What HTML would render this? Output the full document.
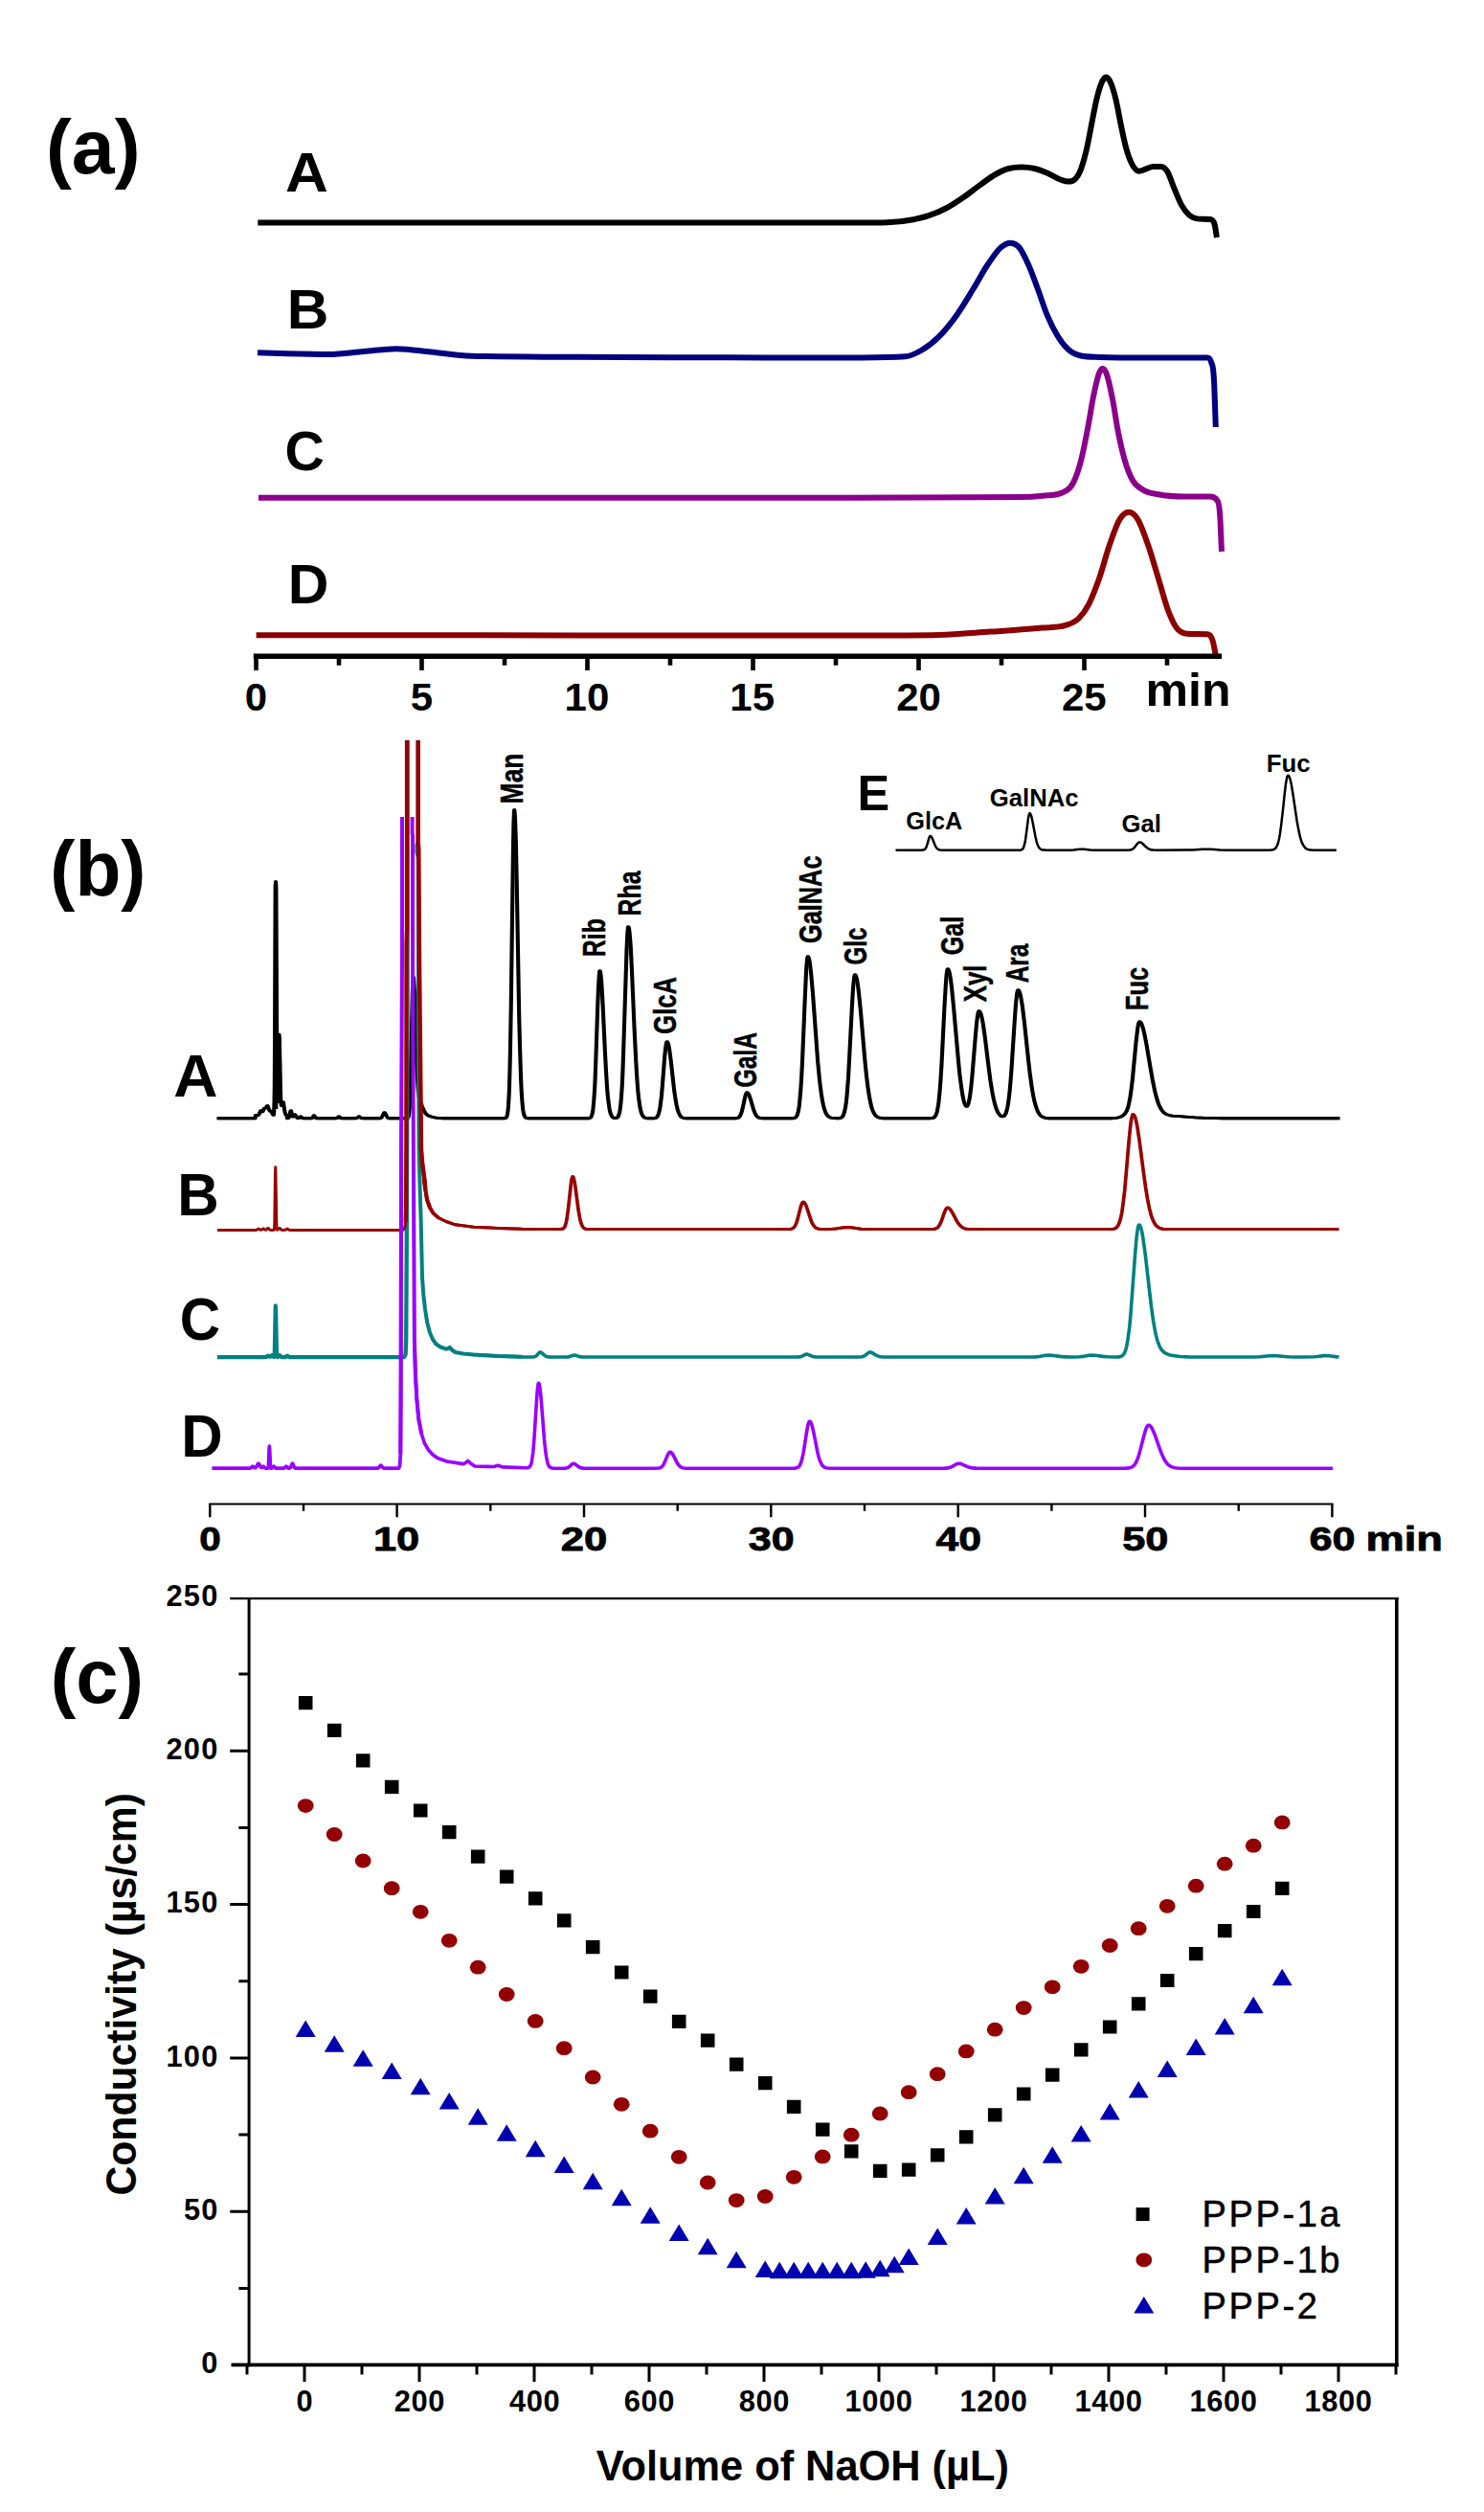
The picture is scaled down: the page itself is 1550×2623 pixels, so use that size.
<!DOCTYPE html>
<html lang="en"><head><meta charset="utf-8"><title>Figure</title>
<style>
html,body{margin:0;padding:0;background:#fff;}
svg{display:block;}
svg text{font-family:"Liberation Sans",sans-serif;}
</style></head>
<body>
<svg width="1550" height="2623" viewBox="0 0 1550 2623">
<rect width="1550" height="2623" fill="#ffffff"/>
<g id="panel-a" fill="none" stroke-linecap="butt" stroke-linejoin="round">
<path d="M269.3,232.6C379.5,232.6 489.8,232.6 600.0,232.6C700.0,232.6 800.0,232.6 900.0,232.5C909.0,232.5 918.0,232.5 927.0,232.2C936.0,231.9 945.0,231.0 954.0,229.2C959.3,228.1 964.7,227.0 970.0,225.2C976.3,223.1 982.7,220.4 989.0,217.0C995.3,213.6 1001.5,209.4 1007.8,205.0C1013.2,201.2 1018.6,196.8 1024.0,192.9C1029.3,189.1 1034.7,184.9 1040.0,182.0C1044.5,179.5 1049.1,177.2 1053.6,176.0C1058.1,174.8 1062.5,174.5 1067.0,174.5C1071.5,174.5 1076.1,175.0 1080.6,176.0C1085.1,177.0 1089.5,178.8 1094.0,180.7C1098.5,182.6 1103.0,185.9 1107.5,187.5C1110.2,188.4 1112.9,189.6 1115.6,189.6C1117.9,189.6 1120.1,189.6 1122.4,187.5C1124.6,185.5 1126.8,182.5 1129.0,176.7C1130.8,171.9 1132.7,165.5 1134.5,157.8C1136.3,150.2 1138.1,139.9 1139.9,130.9C1141.7,121.9 1143.5,111.4 1145.3,104.0C1147.1,96.5 1148.9,90.1 1150.7,86.2C1152.2,82.9 1153.8,80.6 1155.3,80.6C1156.9,80.6 1158.4,82.9 1160.0,86.2C1161.8,90.1 1163.7,96.4 1165.5,104.0C1167.3,111.4 1169.1,122.5 1170.9,131.0C1172.7,139.5 1174.5,148.5 1176.3,155.0C1178.5,163.1 1180.8,168.6 1183.0,172.6C1185.3,176.6 1187.5,178.8 1189.8,178.8C1192.0,178.8 1194.3,177.4 1196.5,176.7C1199.2,175.8 1201.9,174.0 1204.6,174.0C1207.3,174.0 1210.0,174.0 1212.7,174.0C1214.9,174.0 1217.2,175.7 1219.4,179.4C1221.6,183.0 1223.8,190.4 1226.0,195.6C1228.7,202.1 1231.5,209.5 1234.2,214.4C1236.9,219.2 1239.6,222.4 1242.3,224.7C1245.0,227.0 1247.7,228.0 1250.4,228.4C1254.9,229.0 1259.4,228.4 1263.9,229.0C1265.5,229.2 1267.1,229.0 1268.7,234.6C1269.4,237.2 1270.2,243.5 1270.9,248.0" stroke="#000" stroke-width="6"/>
<path d="M269.0,368.3C279.3,368.6 289.7,368.9 300.0,369.2C314.5,369.6 329.0,370.0 343.5,370.0C355.7,370.0 367.8,368.0 380.0,367.0C391.3,366.1 402.7,364.2 414.0,364.2C426.0,364.2 438.0,366.3 450.0,367.5C463.9,368.8 477.8,371.3 491.7,371.7C527.8,372.8 563.9,372.5 600.0,372.8C666.7,373.3 733.3,373.4 800.0,373.4C833.3,373.4 866.7,373.4 900.0,373.4C915.3,373.4 930.5,373.4 945.8,372.3C951.2,371.9 956.6,369.1 962.0,366.0C968.3,362.4 974.6,357.6 980.9,351.3C987.2,345.0 993.4,337.3 999.7,328.4C1005.1,320.8 1010.5,311.6 1015.9,302.8C1021.3,294.1 1026.6,283.7 1032.0,275.8C1036.5,269.2 1041.1,262.0 1045.6,258.3C1048.7,255.7 1051.9,253.7 1055.0,253.7C1058.1,253.7 1061.3,254.7 1064.4,258.3C1067.6,262.0 1070.7,268.8 1073.9,275.8C1077.0,282.7 1080.2,291.6 1083.3,300.0C1086.9,309.5 1090.4,321.2 1094.0,329.7C1097.6,338.4 1101.3,345.4 1104.9,351.3C1108.5,357.1 1112.0,361.5 1115.6,364.8C1120.1,368.9 1124.5,370.5 1129.0,371.5C1135.3,372.9 1141.7,372.7 1148.0,372.9C1165.3,373.4 1182.7,373.4 1200.0,373.4C1220.3,373.4 1240.7,373.4 1261.0,373.4C1262.3,373.4 1263.7,373.4 1265.0,378.0C1266.0,381.5 1267.0,378.0 1268.0,397.0C1268.6,408.4 1269.2,429.7 1269.8,446.0" stroke="#00007f" stroke-width="6"/>
<path d="M270.0,519.8C413.3,519.8 556.7,519.8 700.0,519.8C822.3,519.8 944.7,519.8 1067.0,519.0C1074.2,519.0 1081.5,518.5 1088.7,517.7C1095.8,516.9 1102.9,517.7 1110.0,514.2C1113.7,512.4 1117.3,511.7 1121.0,504.2C1123.7,498.8 1126.3,491.7 1129.0,481.3C1131.3,472.5 1133.5,460.7 1135.8,449.0C1138.1,437.3 1140.3,421.8 1142.6,411.2C1144.4,402.8 1146.2,393.9 1148.0,389.6C1149.2,386.8 1150.3,384.8 1151.5,384.8C1152.8,384.8 1154.2,386.5 1155.5,389.6C1157.5,394.3 1159.5,404.2 1161.5,414.0C1163.7,424.6 1165.8,440.7 1168.0,451.6C1170.3,463.4 1172.7,473.3 1175.0,481.3C1177.7,490.5 1180.3,496.6 1183.0,501.5C1186.6,508.1 1190.2,509.1 1193.8,511.5C1199.2,515.1 1204.6,515.1 1210.0,516.3C1219.0,518.2 1228.0,518.5 1237.0,518.5C1246.0,518.5 1254.9,518.5 1263.9,518.5C1266.1,518.5 1268.4,518.5 1270.6,521.7C1271.7,523.3 1272.9,521.7 1274.0,535.0C1274.7,542.8 1275.3,562.3 1276.0,576.0" stroke="#8b008b" stroke-width="6"/>
<path d="M267.6,663.2C378.4,663.3 489.2,663.3 600.0,663.4C700.0,663.5 800.0,663.6 900.0,663.6C927.0,663.6 953.9,663.6 980.9,663.0C998.9,662.6 1016.8,660.8 1034.8,659.6C1052.8,658.4 1070.7,657.4 1088.7,655.6C1096.8,654.8 1104.9,655.6 1113.0,652.9C1117.5,651.4 1121.9,650.5 1126.4,646.0C1129.9,642.5 1133.5,638.1 1137.0,631.3C1140.7,624.3 1144.3,614.8 1148.0,604.3C1151.6,594.0 1155.2,579.7 1158.8,569.3C1162.4,559.0 1165.9,548.0 1169.5,542.3C1172.7,537.2 1175.8,534.8 1179.0,534.8C1182.1,534.8 1185.3,537.3 1188.4,542.3C1192.0,548.0 1195.6,559.0 1199.2,569.3C1202.8,579.6 1206.4,592.6 1210.0,604.3C1213.6,616.0 1217.2,630.2 1220.8,639.4C1223.5,646.2 1226.1,651.8 1228.8,655.6C1232.4,660.7 1236.0,661.5 1239.6,661.8C1246.8,662.3 1254.0,661.8 1261.2,662.3C1263.0,662.4 1264.8,662.9 1266.6,669.0C1267.7,672.6 1268.7,679.0 1269.8,684.0" stroke="#8b0000" stroke-width="6"/>
<path d="M264.8,685.3H1276" stroke="#000" stroke-width="5.4"/>
<path d="M267.5,685.3V700M354.0,685.3V694.7M440.5,685.3V700M527.0,685.3V694.7M613.5,685.3V700M700.0,685.3V694.7M786.5,685.3V700M873.0,685.3V694.7M959.5,685.3V700M1046.0,685.3V694.7M1132.5,685.3V700M1219.0,685.3V694.7" stroke="#000" stroke-width="4.6"/>
</g>
<g id="labels-a">
<text transform="translate(47.97 181.00) scale(1.0078 1)" font-size="80" font-weight="bold" fill="#000">(a)</text>
<text transform="translate(297.89 199.80) scale(1.0710 1)" font-size="58" font-weight="bold" fill="#000">A</text>
<text transform="translate(299.69 343.00) scale(1.0423 1)" font-size="58" font-weight="bold" fill="#000">B</text>
<text transform="translate(297.58 491.40) scale(0.9868 1)" font-size="58" font-weight="bold" fill="#000">C</text>
<text transform="translate(300.68 630.00) scale(1.0182 1)" font-size="58" font-weight="bold" fill="#000">D</text>
<text transform="translate(255.82 742.00) scale(1.0500 1)" font-size="40" font-weight="bold" fill="#000">0</text>
<text transform="translate(428.69 742.00) scale(1.0500 1)" font-size="40" font-weight="bold" fill="#000">5</text>
<text transform="translate(589.61 742.00) scale(1.0500 1)" font-size="40" font-weight="bold" fill="#000">10</text>
<text transform="translate(762.35 742.00) scale(1.0500 1)" font-size="40" font-weight="bold" fill="#000">15</text>
<text transform="translate(936.27 742.00) scale(1.0500 1)" font-size="40" font-weight="bold" fill="#000">20</text>
<text transform="translate(1109.01 742.00) scale(1.0500 1)" font-size="40" font-weight="bold" fill="#000">25</text>
<text transform="translate(1196.51 737.40) scale(1.0430 1)" font-size="48" font-weight="bold" fill="#000">min</text>
</g>
<g id="panel-b" fill="none" stroke-linejoin="round" stroke-linecap="butt">
<g stroke="#000" stroke-width="2.9"><path transform="translate(-0.6 0)" d="M227.0,1167.8L266.5,1167.8L266.8,1164.8L269.0,1164.7L269.5,1164.6L270.0,1164.2L270.8,1163.1L272.0,1160.2L272.2,1159.9L272.5,1159.7L272.8,1159.7L273.0,1159.9L273.8,1160.8L274.0,1160.9L274.2,1160.8L274.8,1160.1L275.5,1158.2L276.0,1157.3L276.2,1157.1L276.5,1157.1L277.2,1157.1L277.5,1157.0L278.0,1156.3L278.8,1155.0L279.0,1154.7L279.2,1154.6L279.5,1154.7L280.0,1155.6L281.0,1158.5L281.5,1159.6L282.0,1160.0L282.8,1160.2L283.2,1160.6L283.8,1161.4L284.8,1163.4L285.2,1164.1L285.5,1164.3L285.8,1164.2L286.0,1163.3L286.2,1160.2L286.5,1151.7L286.8,1133.0L287.0,1098.7L287.8,940.4L288.0,920.6L288.2,933.3L289.2,1092.4L289.5,1111.4L289.8,1118.2L290.0,1116.5L291.0,1086.5L291.2,1082.0L291.5,1080.3L291.8,1083.2L292.0,1091.7L293.0,1140.1L293.2,1147.4L293.5,1151.8L293.8,1153.9L294.0,1154.5L294.2,1154.2L295.2,1151.1L295.5,1150.8L295.8,1150.9L296.0,1151.6L296.2,1152.7L297.2,1159.4L297.8,1162.0L298.0,1162.9L298.5,1164.0L299.0,1164.5L299.8,1164.8L300.0,1167.8L301.0,1167.6L301.5,1167.2L301.8,1166.8L302.2,1165.4L303.2,1160.9L303.5,1160.1L303.8,1159.8L304.0,1159.9L304.2,1160.5L305.2,1164.7L305.8,1165.9L306.0,1166.1L306.2,1166.0L306.5,1165.8L307.5,1164.1L307.8,1163.9L308.0,1163.8L308.2,1163.9L308.5,1164.1L309.8,1166.4L310.2,1167.1L310.8,1167.5L311.2,1167.7L311.8,1167.6L312.2,1167.4L313.5,1166.0L314.0,1165.8L314.5,1166.0L315.8,1167.4L316.5,1167.7L318.0,1167.8L325.2,1167.7L325.8,1167.6L326.2,1167.2L327.5,1165.2L327.8,1164.9L328.0,1164.8L328.2,1164.9L328.5,1165.2L329.5,1166.8L330.0,1167.4L330.5,1167.7L331.2,1167.8L351.0,1167.8L351.8,1167.6L352.2,1167.4L353.5,1166.0L354.0,1165.8L354.5,1166.0L355.5,1167.2L356.0,1167.5L356.5,1167.7L357.2,1167.8L371.8,1167.7L372.8,1167.5L373.2,1167.1L374.5,1166.0L375.0,1165.8L375.5,1166.0L376.8,1167.1L377.2,1167.5L378.2,1167.7L396.5,1167.8L397.2,1167.7L397.8,1167.5L398.5,1166.9L399.2,1165.8L400.8,1162.6L401.2,1161.9L401.5,1161.8L401.8,1161.8L402.2,1162.3L402.8,1163.2L403.8,1165.4L404.5,1166.6L405.2,1167.4L406.0,1167.7L408.0,1167.8L424.2,1167.8L425.2,1167.7L425.8,1167.4L426.0,1167.2L426.5,1166.2L426.8,1165.3L427.2,1162.3L427.8,1156.6L428.2,1146.8L428.8,1132.0L429.2,1111.6L430.8,1038.3L431.2,1023.7L431.5,1020.5L431.8,1020.2L432.0,1021.6L432.2,1024.8L432.8,1035.4L435.0,1106.7L435.8,1123.8L436.5,1135.7L437.2,1142.6L437.8,1145.5L438.2,1147.5L439.2,1150.6L441.5,1156.9L442.8,1159.7L443.8,1161.5L444.8,1162.8L446.0,1164.0L447.2,1164.8L448.8,1165.5L451.0,1166.2L453.8,1166.9L456.5,1167.3L459.2,1167.6L463.0,1167.7L468.5,1167.8L525.8,1167.8L527.0,1167.7L527.8,1167.6L528.2,1167.4L528.8,1167.0L529.2,1166.1L529.5,1165.5L530.0,1163.5L530.5,1160.1L531.0,1154.7L531.8,1140.7L532.5,1116.7L533.0,1093.7L533.8,1048.3L536.0,882.2L536.5,858.7L536.8,851.2L537.0,846.9L537.2,845.8L537.5,847.1L538.0,854.6L538.8,877.6L539.8,924.7L542.2,1060.9L543.0,1092.6L544.0,1124.2L544.5,1135.7L545.0,1144.6L545.5,1151.4L546.2,1158.5L547.0,1162.7L547.8,1165.2L548.5,1166.5L549.0,1167.0L549.8,1167.4L551.0,1167.7L553.5,1167.8L613.8,1167.8L615.2,1167.7L616.2,1167.4L617.0,1166.8L617.8,1165.6L618.2,1164.3L618.8,1162.3L619.5,1157.7L620.2,1150.2L621.0,1139.1L621.5,1129.4L622.2,1111.3L624.2,1051.6L625.0,1031.9L625.8,1018.5L626.0,1015.9L626.2,1014.3L626.5,1013.8L626.8,1014.1L627.0,1014.8L627.5,1017.9L628.0,1022.9L628.5,1029.6L629.5,1047.1L632.0,1099.8L633.0,1118.7L634.2,1137.5L635.0,1146.0L635.8,1152.6L636.5,1157.5L637.2,1161.0L637.8,1162.8L638.2,1164.1L638.8,1165.1L639.2,1165.9L640.0,1166.7L640.8,1167.2L641.8,1167.5L642.8,1167.6L643.8,1167.4L644.5,1167.1L645.2,1166.4L645.8,1165.7L646.5,1163.8L647.0,1161.9L647.5,1159.3L648.0,1155.8L648.5,1151.1L649.0,1145.1L649.8,1133.1L650.5,1117.1L651.2,1097.2L653.8,1014.4L654.5,992.6L655.0,981.1L655.5,973.0L656.0,968.5L656.2,967.8L656.5,968.0L656.8,968.6L657.0,969.7L657.5,973.3L658.0,978.6L658.8,989.6L660.0,1014.1L662.5,1072.3L663.8,1099.0L665.0,1121.1L666.2,1138.0L667.0,1145.7L667.8,1151.7L668.5,1156.4L669.5,1160.8L670.5,1163.7L671.5,1165.4L672.0,1166.0L672.8,1166.7L673.5,1167.1L674.2,1167.4L676.2,1167.7L680.2,1167.8L683.2,1167.7L684.8,1167.4L685.8,1166.8L686.2,1166.3L686.8,1165.6L687.5,1164.2L688.2,1161.9L689.0,1158.6L689.5,1155.8L690.2,1150.3L690.8,1145.8L692.0,1132.1L694.2,1103.5L695.0,1095.8L695.5,1091.9L696.0,1089.2L696.2,1088.4L696.5,1087.9L696.8,1087.8L697.0,1087.9L697.2,1088.2L697.5,1088.7L698.0,1090.2L698.8,1093.6L699.5,1098.2L700.8,1108.1L704.2,1138.8L705.5,1147.6L706.5,1153.3L707.8,1158.7L709.0,1162.4L709.8,1163.9L710.5,1165.1L711.2,1166.0L712.2,1166.7L713.5,1167.3L714.8,1167.6L716.2,1167.7L718.8,1167.8L766.5,1167.8L769.0,1167.7L770.5,1167.4L771.5,1166.9L772.5,1165.9L773.2,1164.7L774.0,1162.9L774.8,1160.7L775.5,1157.8L777.8,1147.4L778.5,1144.3L779.0,1142.7L779.5,1141.5L780.0,1140.9L780.2,1140.8L780.8,1140.9L781.2,1141.4L781.8,1142.1L782.5,1143.7L783.8,1147.4L786.8,1157.7L787.8,1160.5L788.5,1162.3L789.2,1163.7L790.2,1165.2L791.2,1166.2L792.2,1166.9L793.2,1167.3L794.2,1167.5L797.0,1167.8L825.8,1167.8L828.0,1167.7L829.2,1167.6L830.2,1167.3L831.2,1166.6L832.0,1165.6L832.8,1164.1L833.5,1161.7L834.0,1159.4L834.8,1154.7L835.2,1150.6L836.2,1139.3L837.0,1128.0L838.0,1108.7L840.8,1041.4L841.8,1019.6L842.2,1011.0L842.8,1004.5L843.2,1000.4L843.5,999.3L843.8,998.8L844.0,998.9L844.5,999.6L845.0,1001.1L845.5,1003.4L846.2,1008.3L847.2,1017.1L849.0,1037.6L852.8,1089.8L854.2,1108.9L856.0,1127.6L856.8,1134.3L857.8,1141.9L858.8,1148.2L859.8,1153.3L860.8,1157.2L862.0,1160.9L863.2,1163.4L864.5,1165.1L865.2,1165.8L866.0,1166.3L866.8,1166.7L867.8,1167.1L869.0,1167.4L870.5,1167.6L875.0,1167.8L876.5,1167.7L877.5,1167.5L878.2,1167.3L879.0,1166.8L879.8,1166.2L880.2,1165.5L880.8,1164.7L881.2,1163.6L882.2,1160.2L883.0,1156.5L883.8,1151.3L884.5,1144.6L885.2,1136.0L886.0,1125.5L887.2,1103.9L890.0,1048.9L891.0,1032.5L891.5,1026.3L892.0,1021.6L892.5,1018.8L892.8,1018.0L893.0,1017.8L893.2,1017.9L893.5,1018.1L894.0,1019.1L894.5,1020.6L895.0,1022.8L896.0,1028.8L897.0,1036.7L898.8,1054.3L903.5,1108.6L905.0,1123.3L906.5,1135.5L908.0,1145.3L909.5,1152.7L910.2,1155.6L911.2,1158.8L912.0,1160.7L913.0,1162.7L913.8,1163.8L914.5,1164.8L915.5,1165.7L916.5,1166.4L917.8,1166.9L919.0,1167.3L920.5,1167.5L922.2,1167.7L929.2,1167.8L971.5,1167.8L973.2,1167.6L974.5,1167.4L975.5,1166.9L976.5,1165.9L977.2,1164.8L978.0,1163.1L978.8,1160.6L979.2,1158.3L980.0,1153.9L980.5,1150.2L981.5,1140.5L982.5,1127.4L983.5,1111.1L986.5,1050.5L987.8,1028.6L988.5,1019.2L989.0,1014.9L989.5,1012.4L989.8,1011.9L990.0,1011.8L990.5,1012.2L991.0,1013.3L991.5,1014.9L992.0,1017.1L993.0,1023.1L994.0,1031.0L996.0,1051.2L1000.8,1105.6L1002.2,1120.4L1003.8,1132.8L1005.2,1142.6L1006.5,1148.8L1007.2,1151.5L1008.0,1153.6L1008.8,1154.9L1009.2,1155.3L1009.8,1155.3L1010.0,1155.2L1010.5,1154.7L1011.0,1153.7L1011.5,1152.2L1012.5,1147.9L1013.5,1141.6L1014.5,1133.1L1015.5,1122.8L1018.8,1082.4L1020.0,1068.8L1020.8,1062.6L1021.5,1058.2L1022.0,1056.5L1022.2,1056.0L1022.5,1055.8L1022.8,1055.8L1023.2,1056.1L1023.8,1056.9L1024.2,1058.0L1024.8,1059.6L1025.8,1063.8L1026.8,1069.3L1028.8,1083.3L1032.8,1115.7L1034.5,1128.7L1035.8,1136.8L1036.8,1142.5L1037.8,1147.5L1038.8,1151.7L1040.0,1156.0L1041.5,1159.9L1042.2,1161.4L1043.0,1162.7L1043.8,1163.7L1044.5,1164.5L1045.5,1165.3L1046.2,1165.7L1047.2,1165.9L1048.0,1165.7L1048.8,1165.3L1049.2,1164.8L1050.0,1163.7L1050.5,1162.7L1051.5,1159.7L1052.5,1155.2L1053.5,1148.8L1054.5,1140.3L1055.5,1129.3L1056.5,1116.1L1059.8,1065.1L1061.0,1048.4L1061.8,1040.9L1062.2,1037.3L1062.8,1034.9L1063.0,1034.2L1063.2,1033.9L1063.5,1033.8L1064.0,1034.1L1064.5,1034.9L1065.0,1036.2L1065.5,1037.8L1066.5,1042.4L1067.8,1050.2L1069.8,1066.4L1073.8,1104.0L1075.5,1119.2L1077.5,1133.9L1078.5,1140.1L1079.5,1145.5L1080.5,1150.1L1081.8,1154.8L1082.8,1157.8L1084.0,1160.7L1085.2,1162.9L1086.5,1164.5L1088.0,1165.8L1089.8,1166.7L1091.2,1167.2L1093.0,1167.5L1095.2,1167.7L1098.2,1167.8L1152.8,1167.8L1161.0,1167.7L1165.5,1167.4L1167.2,1167.1L1169.0,1166.6L1170.5,1166.1L1172.0,1165.4L1173.2,1164.6L1174.2,1163.7L1175.2,1162.6L1176.2,1161.0L1177.0,1159.5L1177.8,1157.5L1178.5,1155.1L1179.2,1152.0L1180.5,1145.3L1181.5,1138.4L1182.8,1127.8L1186.5,1088.7L1187.8,1077.5L1188.5,1072.3L1189.0,1069.7L1189.5,1067.9L1189.8,1067.3L1190.0,1067.0L1190.2,1066.8L1190.8,1067.0L1191.5,1067.7L1192.0,1068.5L1192.8,1070.1L1194.0,1074.0L1195.2,1079.1L1196.2,1084.0L1197.5,1090.8L1201.8,1116.3L1203.8,1127.6L1206.0,1138.4L1208.0,1146.3L1209.0,1149.5L1210.2,1153.0L1211.2,1155.3L1212.5,1157.7L1213.8,1159.6L1215.2,1161.4L1216.8,1162.6L1218.2,1163.5L1220.0,1164.2L1222.0,1164.7L1224.5,1165.1L1227.8,1165.4L1248.2,1166.9L1256.2,1167.3L1264.8,1167.5L1276.0,1167.7L1291.0,1167.8L1399.0,1167.8"/><path transform="translate(0.6 0)" d="M227.0,1167.8L266.5,1167.8L266.8,1164.8L269.0,1164.7L269.5,1164.6L270.0,1164.2L270.8,1163.1L272.0,1160.2L272.2,1159.9L272.5,1159.7L272.8,1159.7L273.0,1159.9L273.8,1160.8L274.0,1160.9L274.2,1160.8L274.8,1160.1L275.5,1158.2L276.0,1157.3L276.2,1157.1L276.5,1157.1L277.2,1157.1L277.5,1157.0L278.0,1156.3L278.8,1155.0L279.0,1154.7L279.2,1154.6L279.5,1154.7L280.0,1155.6L281.0,1158.5L281.5,1159.6L282.0,1160.0L282.8,1160.2L283.2,1160.6L283.8,1161.4L284.8,1163.4L285.2,1164.1L285.5,1164.3L285.8,1164.2L286.0,1163.3L286.2,1160.2L286.5,1151.7L286.8,1133.0L287.0,1098.7L287.8,940.4L288.0,920.6L288.2,933.3L289.2,1092.4L289.5,1111.4L289.8,1118.2L290.0,1116.5L291.0,1086.5L291.2,1082.0L291.5,1080.3L291.8,1083.2L292.0,1091.7L293.0,1140.1L293.2,1147.4L293.5,1151.8L293.8,1153.9L294.0,1154.5L294.2,1154.2L295.2,1151.1L295.5,1150.8L295.8,1150.9L296.0,1151.6L296.2,1152.7L297.2,1159.4L297.8,1162.0L298.0,1162.9L298.5,1164.0L299.0,1164.5L299.8,1164.8L300.0,1167.8L301.0,1167.6L301.5,1167.2L301.8,1166.8L302.2,1165.4L303.2,1160.9L303.5,1160.1L303.8,1159.8L304.0,1159.9L304.2,1160.5L305.2,1164.7L305.8,1165.9L306.0,1166.1L306.2,1166.0L306.5,1165.8L307.5,1164.1L307.8,1163.9L308.0,1163.8L308.2,1163.9L308.5,1164.1L309.8,1166.4L310.2,1167.1L310.8,1167.5L311.2,1167.7L311.8,1167.6L312.2,1167.4L313.5,1166.0L314.0,1165.8L314.5,1166.0L315.8,1167.4L316.5,1167.7L318.0,1167.8L325.2,1167.7L325.8,1167.6L326.2,1167.2L327.5,1165.2L327.8,1164.9L328.0,1164.8L328.2,1164.9L328.5,1165.2L329.5,1166.8L330.0,1167.4L330.5,1167.7L331.2,1167.8L351.0,1167.8L351.8,1167.6L352.2,1167.4L353.5,1166.0L354.0,1165.8L354.5,1166.0L355.5,1167.2L356.0,1167.5L356.5,1167.7L357.2,1167.8L371.8,1167.7L372.8,1167.5L373.2,1167.1L374.5,1166.0L375.0,1165.8L375.5,1166.0L376.8,1167.1L377.2,1167.5L378.2,1167.7L396.5,1167.8L397.2,1167.7L397.8,1167.5L398.5,1166.9L399.2,1165.8L400.8,1162.6L401.2,1161.9L401.5,1161.8L401.8,1161.8L402.2,1162.3L402.8,1163.2L403.8,1165.4L404.5,1166.6L405.2,1167.4L406.0,1167.7L408.0,1167.8L424.2,1167.8L425.2,1167.7L425.8,1167.4L426.0,1167.2L426.5,1166.2L426.8,1165.3L427.2,1162.3L427.8,1156.6L428.2,1146.8L428.8,1132.0L429.2,1111.6L430.8,1038.3L431.2,1023.7L431.5,1020.5L431.8,1020.2L432.0,1021.6L432.2,1024.8L432.8,1035.4L435.0,1106.7L435.8,1123.8L436.5,1135.7L437.2,1142.6L437.8,1145.5L438.2,1147.5L439.2,1150.6L441.5,1156.9L442.8,1159.7L443.8,1161.5L444.8,1162.8L446.0,1164.0L447.2,1164.8L448.8,1165.5L451.0,1166.2L453.8,1166.9L456.5,1167.3L459.2,1167.6L463.0,1167.7L468.5,1167.8L525.8,1167.8L527.0,1167.7L527.8,1167.6L528.2,1167.4L528.8,1167.0L529.2,1166.1L529.5,1165.5L530.0,1163.5L530.5,1160.1L531.0,1154.7L531.8,1140.7L532.5,1116.7L533.0,1093.7L533.8,1048.3L536.0,882.2L536.5,858.7L536.8,851.2L537.0,846.9L537.2,845.8L537.5,847.1L538.0,854.6L538.8,877.6L539.8,924.7L542.2,1060.9L543.0,1092.6L544.0,1124.2L544.5,1135.7L545.0,1144.6L545.5,1151.4L546.2,1158.5L547.0,1162.7L547.8,1165.2L548.5,1166.5L549.0,1167.0L549.8,1167.4L551.0,1167.7L553.5,1167.8L613.8,1167.8L615.2,1167.7L616.2,1167.4L617.0,1166.8L617.8,1165.6L618.2,1164.3L618.8,1162.3L619.5,1157.7L620.2,1150.2L621.0,1139.1L621.5,1129.4L622.2,1111.3L624.2,1051.6L625.0,1031.9L625.8,1018.5L626.0,1015.9L626.2,1014.3L626.5,1013.8L626.8,1014.1L627.0,1014.8L627.5,1017.9L628.0,1022.9L628.5,1029.6L629.5,1047.1L632.0,1099.8L633.0,1118.7L634.2,1137.5L635.0,1146.0L635.8,1152.6L636.5,1157.5L637.2,1161.0L637.8,1162.8L638.2,1164.1L638.8,1165.1L639.2,1165.9L640.0,1166.7L640.8,1167.2L641.8,1167.5L642.8,1167.6L643.8,1167.4L644.5,1167.1L645.2,1166.4L645.8,1165.7L646.5,1163.8L647.0,1161.9L647.5,1159.3L648.0,1155.8L648.5,1151.1L649.0,1145.1L649.8,1133.1L650.5,1117.1L651.2,1097.2L653.8,1014.4L654.5,992.6L655.0,981.1L655.5,973.0L656.0,968.5L656.2,967.8L656.5,968.0L656.8,968.6L657.0,969.7L657.5,973.3L658.0,978.6L658.8,989.6L660.0,1014.1L662.5,1072.3L663.8,1099.0L665.0,1121.1L666.2,1138.0L667.0,1145.7L667.8,1151.7L668.5,1156.4L669.5,1160.8L670.5,1163.7L671.5,1165.4L672.0,1166.0L672.8,1166.7L673.5,1167.1L674.2,1167.4L676.2,1167.7L680.2,1167.8L683.2,1167.7L684.8,1167.4L685.8,1166.8L686.2,1166.3L686.8,1165.6L687.5,1164.2L688.2,1161.9L689.0,1158.6L689.5,1155.8L690.2,1150.3L690.8,1145.8L692.0,1132.1L694.2,1103.5L695.0,1095.8L695.5,1091.9L696.0,1089.2L696.2,1088.4L696.5,1087.9L696.8,1087.8L697.0,1087.9L697.2,1088.2L697.5,1088.7L698.0,1090.2L698.8,1093.6L699.5,1098.2L700.8,1108.1L704.2,1138.8L705.5,1147.6L706.5,1153.3L707.8,1158.7L709.0,1162.4L709.8,1163.9L710.5,1165.1L711.2,1166.0L712.2,1166.7L713.5,1167.3L714.8,1167.6L716.2,1167.7L718.8,1167.8L766.5,1167.8L769.0,1167.7L770.5,1167.4L771.5,1166.9L772.5,1165.9L773.2,1164.7L774.0,1162.9L774.8,1160.7L775.5,1157.8L777.8,1147.4L778.5,1144.3L779.0,1142.7L779.5,1141.5L780.0,1140.9L780.2,1140.8L780.8,1140.9L781.2,1141.4L781.8,1142.1L782.5,1143.7L783.8,1147.4L786.8,1157.7L787.8,1160.5L788.5,1162.3L789.2,1163.7L790.2,1165.2L791.2,1166.2L792.2,1166.9L793.2,1167.3L794.2,1167.5L797.0,1167.8L825.8,1167.8L828.0,1167.7L829.2,1167.6L830.2,1167.3L831.2,1166.6L832.0,1165.6L832.8,1164.1L833.5,1161.7L834.0,1159.4L834.8,1154.7L835.2,1150.6L836.2,1139.3L837.0,1128.0L838.0,1108.7L840.8,1041.4L841.8,1019.6L842.2,1011.0L842.8,1004.5L843.2,1000.4L843.5,999.3L843.8,998.8L844.0,998.9L844.5,999.6L845.0,1001.1L845.5,1003.4L846.2,1008.3L847.2,1017.1L849.0,1037.6L852.8,1089.8L854.2,1108.9L856.0,1127.6L856.8,1134.3L857.8,1141.9L858.8,1148.2L859.8,1153.3L860.8,1157.2L862.0,1160.9L863.2,1163.4L864.5,1165.1L865.2,1165.8L866.0,1166.3L866.8,1166.7L867.8,1167.1L869.0,1167.4L870.5,1167.6L875.0,1167.8L876.5,1167.7L877.5,1167.5L878.2,1167.3L879.0,1166.8L879.8,1166.2L880.2,1165.5L880.8,1164.7L881.2,1163.6L882.2,1160.2L883.0,1156.5L883.8,1151.3L884.5,1144.6L885.2,1136.0L886.0,1125.5L887.2,1103.9L890.0,1048.9L891.0,1032.5L891.5,1026.3L892.0,1021.6L892.5,1018.8L892.8,1018.0L893.0,1017.8L893.2,1017.9L893.5,1018.1L894.0,1019.1L894.5,1020.6L895.0,1022.8L896.0,1028.8L897.0,1036.7L898.8,1054.3L903.5,1108.6L905.0,1123.3L906.5,1135.5L908.0,1145.3L909.5,1152.7L910.2,1155.6L911.2,1158.8L912.0,1160.7L913.0,1162.7L913.8,1163.8L914.5,1164.8L915.5,1165.7L916.5,1166.4L917.8,1166.9L919.0,1167.3L920.5,1167.5L922.2,1167.7L929.2,1167.8L971.5,1167.8L973.2,1167.6L974.5,1167.4L975.5,1166.9L976.5,1165.9L977.2,1164.8L978.0,1163.1L978.8,1160.6L979.2,1158.3L980.0,1153.9L980.5,1150.2L981.5,1140.5L982.5,1127.4L983.5,1111.1L986.5,1050.5L987.8,1028.6L988.5,1019.2L989.0,1014.9L989.5,1012.4L989.8,1011.9L990.0,1011.8L990.5,1012.2L991.0,1013.3L991.5,1014.9L992.0,1017.1L993.0,1023.1L994.0,1031.0L996.0,1051.2L1000.8,1105.6L1002.2,1120.4L1003.8,1132.8L1005.2,1142.6L1006.5,1148.8L1007.2,1151.5L1008.0,1153.6L1008.8,1154.9L1009.2,1155.3L1009.8,1155.3L1010.0,1155.2L1010.5,1154.7L1011.0,1153.7L1011.5,1152.2L1012.5,1147.9L1013.5,1141.6L1014.5,1133.1L1015.5,1122.8L1018.8,1082.4L1020.0,1068.8L1020.8,1062.6L1021.5,1058.2L1022.0,1056.5L1022.2,1056.0L1022.5,1055.8L1022.8,1055.8L1023.2,1056.1L1023.8,1056.9L1024.2,1058.0L1024.8,1059.6L1025.8,1063.8L1026.8,1069.3L1028.8,1083.3L1032.8,1115.7L1034.5,1128.7L1035.8,1136.8L1036.8,1142.5L1037.8,1147.5L1038.8,1151.7L1040.0,1156.0L1041.5,1159.9L1042.2,1161.4L1043.0,1162.7L1043.8,1163.7L1044.5,1164.5L1045.5,1165.3L1046.2,1165.7L1047.2,1165.9L1048.0,1165.7L1048.8,1165.3L1049.2,1164.8L1050.0,1163.7L1050.5,1162.7L1051.5,1159.7L1052.5,1155.2L1053.5,1148.8L1054.5,1140.3L1055.5,1129.3L1056.5,1116.1L1059.8,1065.1L1061.0,1048.4L1061.8,1040.9L1062.2,1037.3L1062.8,1034.9L1063.0,1034.2L1063.2,1033.9L1063.5,1033.8L1064.0,1034.1L1064.5,1034.9L1065.0,1036.2L1065.5,1037.8L1066.5,1042.4L1067.8,1050.2L1069.8,1066.4L1073.8,1104.0L1075.5,1119.2L1077.5,1133.9L1078.5,1140.1L1079.5,1145.5L1080.5,1150.1L1081.8,1154.8L1082.8,1157.8L1084.0,1160.7L1085.2,1162.9L1086.5,1164.5L1088.0,1165.8L1089.8,1166.7L1091.2,1167.2L1093.0,1167.5L1095.2,1167.7L1098.2,1167.8L1152.8,1167.8L1161.0,1167.7L1165.5,1167.4L1167.2,1167.1L1169.0,1166.6L1170.5,1166.1L1172.0,1165.4L1173.2,1164.6L1174.2,1163.7L1175.2,1162.6L1176.2,1161.0L1177.0,1159.5L1177.8,1157.5L1178.5,1155.1L1179.2,1152.0L1180.5,1145.3L1181.5,1138.4L1182.8,1127.8L1186.5,1088.7L1187.8,1077.5L1188.5,1072.3L1189.0,1069.7L1189.5,1067.9L1189.8,1067.3L1190.0,1067.0L1190.2,1066.8L1190.8,1067.0L1191.5,1067.7L1192.0,1068.5L1192.8,1070.1L1194.0,1074.0L1195.2,1079.1L1196.2,1084.0L1197.5,1090.8L1201.8,1116.3L1203.8,1127.6L1206.0,1138.4L1208.0,1146.3L1209.0,1149.5L1210.2,1153.0L1211.2,1155.3L1212.5,1157.7L1213.8,1159.6L1215.2,1161.4L1216.8,1162.6L1218.2,1163.5L1220.0,1164.2L1222.0,1164.7L1224.5,1165.1L1227.8,1165.4L1248.2,1166.9L1256.2,1167.3L1264.8,1167.5L1276.0,1167.7L1291.0,1167.8L1399.0,1167.8"/></g>
<path d="M288,923.5V1158" stroke="#000" stroke-width="4.6"/>
<path d="M291.6,1085V1152" stroke="#000" stroke-width="4.6"/>
<path d="M289.8,1100V1150" stroke="#000" stroke-width="5"/>
<path d="M227.0,1417.2L276.8,1417.2L278.0,1417.0L279.5,1415.9L280.0,1415.7L280.5,1415.9L281.5,1416.6L282.0,1416.7L282.5,1416.5L283.5,1415.4L284.0,1415.2L284.5,1415.4L285.8,1416.8L286.2,1416.9L286.5,1416.3L286.8,1413.6L287.0,1406.1L287.8,1363.5L288.0,1367.4L288.8,1408.3L289.0,1414.1L289.2,1416.3L289.5,1416.9L289.8,1417.0L290.2,1416.8L291.5,1415.4L292.0,1415.2L292.5,1415.4L293.5,1416.6L294.0,1416.9L294.5,1417.1L295.5,1417.2L297.8,1417.1L298.5,1416.7L299.5,1415.9L300.0,1415.7L300.5,1415.9L302.0,1417.0L303.5,1417.2L422.0,1417.2L422.0,1417.2L423.6,1414.5L424.2,1400.0L424.6,1330.0L425.0,1250.0L425.4,1100.0L425.7,965.0L425.7,773.0" stroke="#008080" stroke-width="4.3"/>
<path d="M436.6,773.0L436.6,878.0L435.4,883.0L435.4,890.0L436.8,896.0L437.0,1000.0L437.0,1080.0L437.6,1200.0L438.6,1240.0L439.7,1276.4L441.0,1333.8L442.3,1352.0L444.0,1367.0L446.2,1381.0L448.8,1391.0L452.0,1398.5L455.5,1403.5L460.0,1406.5L466.0,1408.7L468.0,1408.0L469.8,1406.8L472.0,1409.5L475.5,1412.0L484.0,1413.5L494.6,1414.5L520.0,1416.0L545.0,1416.8" stroke="#008080" stroke-width="4"/>
<path d="M494.6,1414.5L520.0,1416.0L545.0,1416.8L545.0,1417.0L555.8,1417.0L558.2,1416.7L559.2,1416.3L560.0,1415.9L561.0,1414.9L563.0,1412.6L563.8,1412.1L564.2,1412.0L565.0,1412.1L565.8,1412.6L568.8,1415.3L570.2,1416.3L572.2,1416.9L575.2,1417.0L589.5,1417.0L592.8,1416.9L594.8,1416.6L598.5,1415.2L600.0,1415.0L601.5,1415.2L604.2,1416.3L605.8,1416.7L607.5,1416.9L610.0,1417.0L832.2,1417.0L835.0,1416.9L836.8,1416.5L838.2,1415.9L841.0,1414.4L841.8,1414.1L842.5,1414.0L843.2,1414.1L844.2,1414.4L847.2,1415.8L848.8,1416.4L850.2,1416.7L852.0,1416.9L897.0,1417.0L900.0,1416.8L902.0,1416.2L903.8,1415.2L907.0,1412.6L908.0,1412.1L908.8,1412.0L909.8,1412.1L911.0,1412.6L915.2,1415.2L917.5,1416.2L920.0,1416.8L923.5,1417.0L1077.0,1417.0L1080.8,1416.9L1083.8,1416.7L1086.5,1416.3L1092.0,1415.2L1095.0,1415.0L1099.0,1415.2L1109.0,1416.6L1115.8,1416.9L1122.8,1417.0L1127.5,1416.8L1131.0,1416.4L1137.2,1415.2L1140.0,1415.0L1143.8,1415.2L1152.2,1416.4L1157.0,1416.8L1165.5,1417.0L1168.0,1416.9L1169.8,1416.6L1171.5,1416.0L1172.8,1415.1L1173.8,1413.9L1174.8,1412.0L1175.8,1409.3L1176.5,1406.6L1177.5,1401.9L1178.2,1397.3L1179.8,1385.3L1181.2,1369.2L1185.5,1310.8L1187.0,1293.2L1187.8,1286.6L1188.5,1281.9L1189.2,1279.4L1189.5,1279.1L1189.8,1279.0L1190.2,1279.2L1190.8,1279.9L1191.2,1280.9L1192.0,1283.2L1193.0,1287.6L1194.2,1294.9L1196.5,1312.0L1200.8,1349.8L1202.5,1364.3L1204.5,1378.6L1206.5,1390.0L1207.5,1394.6L1208.5,1398.5L1209.5,1401.7L1210.8,1405.0L1212.0,1407.5L1213.2,1409.4L1214.8,1411.1L1216.5,1412.5L1218.0,1413.4L1220.0,1414.2L1222.5,1414.9L1225.5,1415.5L1232.8,1416.5L1240.8,1416.9L1253.2,1417.0L1309.0,1417.0L1315.8,1416.7L1326.0,1415.7L1330.0,1415.5L1333.8,1415.7L1342.0,1416.5L1346.2,1416.8L1351.8,1417.0L1361.0,1417.0L1372.5,1416.8L1376.0,1416.5L1382.2,1415.6L1385.5,1415.5L1388.2,1415.7L1395.0,1416.6L1398.5,1416.9" stroke="#008080" stroke-width="3.6"/>
<path d="M227.0,1284.4L266.8,1284.4L268.0,1284.2L269.5,1283.3L270.0,1283.2L270.5,1283.3L271.8,1284.1L272.5,1284.3L273.2,1284.1L274.5,1283.1L275.0,1282.9L275.5,1283.1L276.8,1284.1L277.5,1284.2L278.2,1284.0L279.5,1282.6L280.0,1282.4L280.5,1282.6L281.5,1283.8L282.2,1284.2L283.2,1284.4L286.0,1284.3L286.2,1284.0L286.5,1282.5L286.8,1277.3L287.5,1224.6L287.8,1218.7L288.8,1277.1L289.0,1282.1L289.2,1283.8L289.5,1284.2L289.8,1284.2L290.2,1284.0L291.5,1282.6L292.0,1282.4L292.5,1282.6L293.5,1283.8L294.0,1284.1L294.5,1284.3L295.5,1284.4L297.8,1284.3L298.5,1284.0L299.5,1283.3L300.0,1283.2L300.5,1283.3L302.0,1284.2L303.5,1284.4L421.0,1284.4L421.0,1284.4L422.6,1282.5L423.6,1276.0L424.1,1262.0L424.3,1200.0" stroke="#990000" stroke-width="3.0"/>
<path d="M423.6,1276.0L424.1,1262.0L424.3,1200.0L424.5,985.0L425.0,968.0L425.0,773.0" stroke="#990000" stroke-width="4.2"/>
<path d="M436.7,773.0L436.7,880.0L437.3,886.0L438.0,1000.0L439.2,1120.0L440.0,1200.0L441.2,1215.0L443.0,1228.7L444.3,1242.0" stroke="#990000" stroke-width="4.4"/>
<path d="M443.0,1228.7L444.3,1242.0L446.0,1252.5L449.0,1261.0" stroke="#990000" stroke-width="4.0"/>
<path d="M446.0,1252.5L449.0,1261.0L452.6,1266.9L458.0,1271.6" stroke="#990000" stroke-width="3.7"/>
<g stroke="#990000" stroke-width="3.0"><path transform="translate(-0.35 0)" d="M441.2,1215.0L443.0,1228.7L444.3,1242.0L446.0,1252.5L449.0,1261.0L452.6,1266.9L458.0,1271.6L466.0,1275.5L475.5,1278.8L494.6,1281.2L520.0,1282.4L545.0,1283.2L545.0,1283.6L584.8,1283.6L587.2,1283.3L588.0,1283.0L588.8,1282.4L589.8,1281.1L590.5,1279.4L591.2,1276.8L592.0,1273.2L593.5,1262.4L596.5,1235.1L597.0,1231.9L597.5,1229.8L598.0,1228.7L598.2,1228.6L598.8,1229.1L599.2,1230.3L600.2,1234.8L601.2,1241.3L604.2,1264.1L605.5,1271.5L606.5,1275.8L607.8,1279.5L609.0,1281.6L609.8,1282.3L610.8,1283.0L611.8,1283.3L613.0,1283.5L618.5,1283.6L818.5,1283.6L823.2,1283.6L825.5,1283.4L827.2,1283.0L828.8,1282.1L830.0,1280.7L831.0,1279.0L832.0,1276.5L833.0,1273.3L836.0,1261.5L837.0,1258.2L838.0,1255.9L838.5,1255.3L839.0,1255.1L839.5,1255.2L840.2,1255.9L841.0,1257.0L841.8,1258.6L843.0,1261.9L846.8,1273.4L848.0,1276.5L849.2,1278.9L850.8,1280.9L852.2,1282.2L854.0,1283.0L856.5,1283.4L862.0,1283.6L868.8,1283.3L873.0,1283.0L881.2,1281.8L885.0,1281.6L889.0,1281.8L899.2,1283.2L906.2,1283.5L970.2,1283.6L974.0,1283.5L976.0,1283.3L977.8,1282.8L979.0,1282.1L980.2,1280.9L981.2,1279.4L982.2,1277.5L983.2,1275.2L986.2,1266.6L987.5,1263.5L988.2,1262.2L988.8,1261.6L989.2,1261.2L989.8,1261.1L990.5,1261.2L991.5,1261.8L992.2,1262.5L993.2,1263.8L995.0,1266.7L999.5,1275.2L1001.0,1277.5L1002.5,1279.4L1004.2,1281.0L1006.0,1282.1L1008.0,1282.9L1010.2,1283.3L1013.5,1283.5L1019.0,1283.6L1153.2,1283.6L1160.0,1283.5L1163.0,1283.2L1164.8,1282.7L1166.0,1281.9L1167.2,1280.5L1168.2,1278.9L1169.2,1276.4L1170.0,1274.1L1171.0,1269.9L1171.8,1266.0L1173.2,1255.7L1174.8,1242.2L1176.2,1225.8L1179.0,1193.0L1180.5,1177.7L1181.2,1171.7L1182.0,1167.3L1182.8,1164.5L1183.2,1163.7L1183.5,1163.6L1184.0,1163.8L1184.5,1164.3L1185.0,1165.2L1185.8,1167.1L1187.0,1172.0L1188.2,1178.6L1190.2,1191.9L1194.5,1224.9L1196.5,1239.4L1198.5,1251.8L1200.5,1261.8L1202.5,1269.4L1203.5,1272.3L1204.8,1275.3L1206.0,1277.6L1207.2,1279.3L1208.8,1280.8L1210.2,1281.8L1212.2,1282.7L1214.5,1283.2L1217.5,1283.5L1221.8,1283.6L1398.2,1283.6"/><path transform="translate(0.35 0)" d="M441.2,1215.0L443.0,1228.7L444.3,1242.0L446.0,1252.5L449.0,1261.0L452.6,1266.9L458.0,1271.6L466.0,1275.5L475.5,1278.8L494.6,1281.2L520.0,1282.4L545.0,1283.2L545.0,1283.6L584.8,1283.6L587.2,1283.3L588.0,1283.0L588.8,1282.4L589.8,1281.1L590.5,1279.4L591.2,1276.8L592.0,1273.2L593.5,1262.4L596.5,1235.1L597.0,1231.9L597.5,1229.8L598.0,1228.7L598.2,1228.6L598.8,1229.1L599.2,1230.3L600.2,1234.8L601.2,1241.3L604.2,1264.1L605.5,1271.5L606.5,1275.8L607.8,1279.5L609.0,1281.6L609.8,1282.3L610.8,1283.0L611.8,1283.3L613.0,1283.5L618.5,1283.6L818.5,1283.6L823.2,1283.6L825.5,1283.4L827.2,1283.0L828.8,1282.1L830.0,1280.7L831.0,1279.0L832.0,1276.5L833.0,1273.3L836.0,1261.5L837.0,1258.2L838.0,1255.9L838.5,1255.3L839.0,1255.1L839.5,1255.2L840.2,1255.9L841.0,1257.0L841.8,1258.6L843.0,1261.9L846.8,1273.4L848.0,1276.5L849.2,1278.9L850.8,1280.9L852.2,1282.2L854.0,1283.0L856.5,1283.4L862.0,1283.6L868.8,1283.3L873.0,1283.0L881.2,1281.8L885.0,1281.6L889.0,1281.8L899.2,1283.2L906.2,1283.5L970.2,1283.6L974.0,1283.5L976.0,1283.3L977.8,1282.8L979.0,1282.1L980.2,1280.9L981.2,1279.4L982.2,1277.5L983.2,1275.2L986.2,1266.6L987.5,1263.5L988.2,1262.2L988.8,1261.6L989.2,1261.2L989.8,1261.1L990.5,1261.2L991.5,1261.8L992.2,1262.5L993.2,1263.8L995.0,1266.7L999.5,1275.2L1001.0,1277.5L1002.5,1279.4L1004.2,1281.0L1006.0,1282.1L1008.0,1282.9L1010.2,1283.3L1013.5,1283.5L1019.0,1283.6L1153.2,1283.6L1160.0,1283.5L1163.0,1283.2L1164.8,1282.7L1166.0,1281.9L1167.2,1280.5L1168.2,1278.9L1169.2,1276.4L1170.0,1274.1L1171.0,1269.9L1171.8,1266.0L1173.2,1255.7L1174.8,1242.2L1176.2,1225.8L1179.0,1193.0L1180.5,1177.7L1181.2,1171.7L1182.0,1167.3L1182.8,1164.5L1183.2,1163.7L1183.5,1163.6L1184.0,1163.8L1184.5,1164.3L1185.0,1165.2L1185.8,1167.1L1187.0,1172.0L1188.2,1178.6L1190.2,1191.9L1194.5,1224.9L1196.5,1239.4L1198.5,1251.8L1200.5,1261.8L1202.5,1269.4L1203.5,1272.3L1204.8,1275.3L1206.0,1277.6L1207.2,1279.3L1208.8,1280.8L1210.2,1281.8L1212.2,1282.7L1214.5,1283.2L1217.5,1283.5L1221.8,1283.6L1398.2,1283.6"/></g>
<path d="M221.4,1533.2L260.4,1533.2L261.1,1533.1L261.9,1532.8L263.4,1531.4L263.9,1531.2L264.6,1531.5L265.9,1532.6L266.6,1532.7L267.1,1532.5L267.6,1532.0L269.1,1529.0L269.6,1528.4L269.9,1528.2L270.1,1528.2L270.6,1528.7L272.1,1531.6L272.9,1532.4L273.4,1532.4L274.6,1531.3L275.1,1531.2L275.6,1531.6L276.6,1532.7L277.1,1533.0L278.1,1533.2L279.9,1533.1L280.1,1532.7L280.4,1531.3L280.6,1527.5L281.1,1513.5L281.4,1510.2L281.6,1512.9L282.4,1530.1L282.6,1532.2L282.9,1532.9L283.1,1533.1L283.6,1533.1L284.1,1532.8L285.4,1531.5L285.9,1531.2L286.4,1531.4L287.9,1532.9L288.9,1533.2L296.4,1533.1L297.1,1532.8L298.4,1531.5L298.9,1531.2L299.4,1531.4L300.9,1532.9L301.6,1533.1L302.4,1533.1L302.9,1532.9L303.4,1532.4L303.9,1531.5L304.9,1528.9L305.4,1528.2L305.6,1528.2L305.9,1528.5L307.1,1531.6L307.6,1532.5L308.1,1532.9L309.1,1533.2L393.6,1533.2L394.6,1533.1L395.4,1532.7L395.9,1532.2L397.1,1530.5L397.6,1530.2L397.9,1530.2L398.4,1530.7L399.9,1532.6L400.9,1533.1L416.1,1533.2L416.4,1533.2L417.6,1530.5L418.3,1518.0L418.7,1440.0L419.0,1200.0" stroke="#9900ff" stroke-width="3.7"/>
<path d="M418.3,1518.0L418.7,1440.0L419.0,1200.0L420.0,1000.0L420.0,853.0" stroke="#9900ff" stroke-width="4"/>
<path d="M430.6,853.0L430.6,870.0L431.0,873.0L431.0,1000.0L432.0,1240.0L432.9,1400.0L433.9,1435.0L435.3,1460.6L437.3,1482.0L440.2,1497.0" stroke="#9900ff" stroke-width="4"/>
<path d="M432.9,1400.0L433.9,1435.0L435.3,1460.6L437.3,1482.0L440.2,1497.0L443.4,1507.0L447.5,1514.0L452.0,1519.0L457.0,1522.5L466.9,1526.0L483.8,1528.6L486.5,1527.3L488.7,1525.4L491.5,1528.0L496.0,1531.0L510.0,1531.4L510.0,1531.4L515.5,1531.5L516.8,1531.2L519.0,1530.4L520.0,1530.2L521.0,1530.4L523.5,1531.5L525.5,1531.9L550.0,1532.7L551.2,1532.6L552.2,1532.3L553.0,1531.8L553.8,1530.9L554.2,1529.9L554.8,1528.5L555.5,1525.3L556.2,1520.5L556.8,1516.2L558.0,1501.3L561.0,1454.6L561.8,1447.2L562.2,1444.7L562.5,1444.2L562.8,1444.2L563.0,1444.6L563.5,1446.4L564.5,1453.7L565.5,1464.8L568.5,1503.2L569.5,1513.1L570.5,1520.5L571.8,1526.7L572.2,1528.4L573.0,1530.2L573.8,1531.4L574.8,1532.3L575.8,1532.8L577.2,1533.1L588.2,1533.2L590.2,1533.1L591.8,1532.9L592.8,1532.6L593.8,1532.1L594.8,1531.4L597.5,1528.8L598.2,1528.4L599.0,1528.2L599.8,1528.3L600.8,1528.8L604.0,1531.4L605.5,1532.3L607.2,1532.9L609.2,1533.1L682.5,1533.2L687.8,1533.0L689.2,1532.7L690.5,1532.1L691.5,1531.3L692.5,1530.1L693.2,1528.9L694.2,1526.9L697.0,1520.1L698.0,1518.0L699.0,1516.6L699.5,1516.3L700.0,1516.2L700.5,1516.3L701.2,1516.8L702.5,1518.3L703.8,1520.6L707.0,1527.0L708.2,1529.0L709.2,1530.2L710.5,1531.4L711.8,1532.2L713.0,1532.7L714.8,1533.0L717.0,1533.2L721.0,1533.2L824.5,1533.2L829.2,1533.2L831.5,1532.9L833.2,1532.3L834.0,1531.8L834.8,1531.0L836.0,1528.9L837.2,1525.4L838.2,1521.5L839.2,1516.5L842.5,1495.6L843.5,1490.0L844.2,1486.8L844.8,1485.3L845.2,1484.5L845.8,1484.2L846.2,1484.4L847.0,1485.5L847.8,1487.4L848.5,1490.0L849.8,1495.5L853.8,1515.8L855.2,1521.8L856.5,1525.6L858.0,1528.8L858.8,1530.0L859.8,1531.1L860.8,1531.9L861.8,1532.4L863.0,1532.8L864.8,1533.0L872.0,1533.2L986.8,1533.1L989.8,1532.9L992.2,1532.3L994.5,1531.4L999.0,1528.8L1000.2,1528.4L1001.5,1528.2L1003.0,1528.3L1004.5,1528.8L1010.2,1531.4L1012.8,1532.3L1015.8,1532.9L1019.8,1533.1L1170.2,1533.2L1175.8,1533.1L1178.8,1532.9L1180.2,1532.6L1181.5,1532.2L1182.8,1531.5L1183.8,1530.8L1185.5,1528.8L1187.2,1525.6L1188.8,1521.8L1190.2,1517.1L1194.8,1499.2L1196.5,1493.2L1197.5,1490.6L1198.2,1489.3L1199.0,1488.5L1199.8,1488.2L1200.8,1488.5L1202.0,1489.6L1203.0,1491.0L1204.2,1493.4L1206.5,1499.0L1210.8,1511.3L1212.8,1516.7L1214.8,1521.4L1216.5,1524.7L1218.5,1527.6L1219.5,1528.8L1220.8,1529.9L1222.0,1530.8L1223.2,1531.5L1226.0,1532.4L1228.0,1532.8L1230.2,1533.0L1237.5,1533.2L1392.0,1533.2" stroke="#9900ff" stroke-width="3.6"/>
<path d="M935.5,887.7L962.5,887.7L964.2,887.6L965.2,887.3L966.0,886.8L966.5,886.3L967.0,885.5L967.5,884.5L968.5,881.7L970.0,876.3L970.5,874.7L971.0,873.6L971.2,873.3L971.5,873.1L971.8,873.0L972.0,873.1L972.5,873.4L973.0,874.0L973.5,874.9L974.2,876.6L976.5,882.3L977.2,883.8L978.0,885.1L978.8,886.0L979.8,886.8L980.8,887.3L981.8,887.5L983.2,887.7L986.0,887.7L1061.8,887.7L1065.0,887.7L1066.5,887.5L1067.2,887.2L1067.8,886.9L1068.2,886.4L1068.8,885.6L1069.5,883.8L1070.2,881.1L1070.8,878.6L1071.5,873.8L1074.0,854.3L1074.8,850.6L1075.0,849.8L1075.2,849.4L1075.5,849.2L1075.8,849.3L1076.0,849.5L1076.5,850.3L1077.0,851.6L1077.5,853.3L1078.5,857.9L1081.5,873.8L1082.5,878.1L1083.5,881.4L1084.0,882.7L1084.8,884.3L1085.2,885.1L1086.0,886.0L1086.8,886.6L1087.5,887.1L1088.2,887.3L1089.2,887.5L1090.8,887.6L1093.2,887.7L1117.2,887.7L1121.2,887.5L1127.5,886.8L1130.0,886.7L1132.5,886.8L1138.8,887.5L1143.0,887.7L1175.2,887.7L1179.5,887.6L1180.8,887.4L1181.8,887.2L1182.8,886.7L1183.5,886.2L1184.2,885.6L1185.0,884.8L1187.5,881.4L1188.5,880.3L1189.0,879.8L1189.5,879.6L1190.2,879.4L1190.8,879.5L1191.5,879.7L1192.8,880.4L1194.0,881.5L1197.2,884.6L1198.5,885.6L1199.5,886.2L1200.8,886.8L1202.0,887.2L1203.2,887.4L1205.0,887.6L1210.8,887.7L1240.8,887.6L1246.2,887.5L1256.0,886.8L1260.0,886.7L1264.0,886.8L1274.2,887.5L1281.0,887.7L1324.5,887.7L1327.5,887.6L1329.2,887.4L1330.5,887.0L1331.5,886.4L1332.5,885.5L1333.2,884.4L1334.0,882.8L1334.8,880.7L1335.5,878.0L1336.0,875.8L1337.0,870.2L1338.2,861.2L1339.5,850.1L1341.8,828.4L1343.0,818.2L1343.8,813.7L1344.2,811.5L1344.8,810.2L1345.0,809.9L1345.2,809.7L1345.5,809.7L1346.0,810.1L1346.5,810.9L1347.0,812.1L1347.8,814.6L1348.8,819.1L1349.5,823.2L1350.5,829.5L1354.5,856.5L1355.8,863.8L1357.0,869.9L1358.0,874.1L1359.2,878.2L1360.2,880.7L1361.5,883.1L1362.8,884.8L1363.5,885.5L1364.2,886.1L1365.0,886.5L1366.0,886.9L1367.0,887.2L1368.2,887.4L1370.2,887.6L1373.2,887.7L1395.8,887.7" stroke="#000" stroke-width="2.5"/>
<path d="M218.1,1570.5H1392.5" stroke="#000" stroke-width="2.0"/>
<path d="M219.3,1570.5V1584.2M317.0,1570.5V1577.8M414.6,1570.5V1584.2M512.3,1570.5V1577.8M610.0,1570.5V1584.2M707.7,1570.5V1577.8M805.3,1570.5V1584.2M903.0,1570.5V1577.8M1000.7,1570.5V1584.2M1098.4,1570.5V1577.8M1196.0,1570.5V1584.2M1293.7,1570.5V1577.8M1391.4,1570.5V1584.2" stroke="#000" stroke-width="2.4"/>
</g>
<g id="labels-b">
<text transform="translate(52.35 934.80) scale(0.9625 1)" font-size="81.5" font-weight="bold" fill="#000">(b)</text>
<text transform="translate(181.17 1145.00) scale(1.0178 1)" font-size="63" font-weight="bold" fill="#000">A</text>
<text transform="translate(185.34 1268.60) scale(0.9558 1)" font-size="63" font-weight="bold" fill="#000">B</text>
<text transform="translate(187.67 1398.80) scale(0.9309 1)" font-size="63" font-weight="bold" fill="#000">C</text>
<text transform="translate(189.14 1520.50) scale(0.9548 1)" font-size="63" font-weight="bold" fill="#000">D</text>
<text transform="translate(895.50 845.60) scale(0.9709 1)" font-size="52" font-weight="bold" fill="#000">E</text>
<text transform="translate(946.21 866.20) scale(0.9883 1)" font-size="25.6" font-weight="bold" fill="#000">GlcA</text>
<text transform="translate(1033.69 841.70) scale(1.0049 1)" font-size="25.6" font-weight="bold" fill="#000">GalNAc</text>
<text transform="translate(1171.49 869.20) scale(1.0026 1)" font-size="25.6" font-weight="bold" fill="#000">Gal</text>
<text transform="translate(1322.73 805.80) scale(1.0077 1)" font-size="25.6" font-weight="bold" fill="#000">Fuc</text>
<text transform="translate(546.40 839.19) rotate(-90) scale(0.7976 1)" font-size="32.9" font-weight="bold" stroke="#000" stroke-width="0.5" stroke-linejoin="round">Man</text>
<text transform="translate(632.00 999.21) rotate(-90) scale(0.7563 1)" font-size="32.9" font-weight="bold" stroke="#000" stroke-width="0.5" stroke-linejoin="round">Rib</text>
<text transform="translate(668.90 956.41) rotate(-90) scale(0.7562 1)" font-size="32.9" font-weight="bold" stroke="#000" stroke-width="0.5" stroke-linejoin="round">Rha</text>
<text transform="translate(706.40 1079.78) rotate(-90) scale(0.7785 1)" font-size="32.9" font-weight="bold" stroke="#000" stroke-width="0.5" stroke-linejoin="round">GlcA</text>
<text transform="translate(790.40 1135.55) rotate(-90) scale(0.7506 1)" font-size="32.9" font-weight="bold" stroke="#000" stroke-width="0.5" stroke-linejoin="round">GalA</text>
<text transform="translate(857.70 985.07) rotate(-90) scale(0.7708 1)" font-size="32.9" font-weight="bold" stroke="#000" stroke-width="0.5" stroke-linejoin="round">GalNAc</text>
<text transform="translate(905.40 1007.43) rotate(-90) scale(0.7323 1)" font-size="32.9" font-weight="bold" stroke="#000" stroke-width="0.5" stroke-linejoin="round">Glc</text>
<text transform="translate(1006.30 997.37) rotate(-90) scale(0.7683 1)" font-size="32.9" font-weight="bold" stroke="#000" stroke-width="0.5" stroke-linejoin="round">Gal</text>
<text transform="translate(1030.40 1046.30) rotate(-90) scale(0.7854 1)" font-size="32.9" font-weight="bold" stroke="#000" stroke-width="0.5" stroke-linejoin="round">Xyl</text>
<text transform="translate(1074.20 1026.37) rotate(-90) scale(0.7422 1)" font-size="32.9" font-weight="bold" stroke="#000" stroke-width="0.5" stroke-linejoin="round">Ara</text>
<text transform="translate(1199.00 1054.94) rotate(-90) scale(0.7702 1)" font-size="32.9" font-weight="bold" stroke="#000" stroke-width="0.5" stroke-linejoin="round">Fuc</text>
<text transform="translate(208.15 1619.00) scale(1.1702 1)" font-size="34.6" font-weight="bold" stroke="#000" stroke-width="0.8" stroke-linejoin="round" fill="#000">0</text>
<text transform="translate(389.97 1619.00) scale(1.2538 1)" font-size="34.6" font-weight="bold" stroke="#000" stroke-width="0.8" stroke-linejoin="round" fill="#000">10</text>
<text transform="translate(585.82 1619.00) scale(1.2604 1)" font-size="34.6" font-weight="bold" stroke="#000" stroke-width="0.8" stroke-linejoin="round" fill="#000">20</text>
<text transform="translate(781.81 1619.00) scale(1.2434 1)" font-size="34.6" font-weight="bold" stroke="#000" stroke-width="0.8" stroke-linejoin="round" fill="#000">30</text>
<text transform="translate(977.47 1619.00) scale(1.2351 1)" font-size="34.6" font-weight="bold" stroke="#000" stroke-width="0.8" stroke-linejoin="round" fill="#000">40</text>
<text transform="translate(1172.20 1619.00) scale(1.2519 1)" font-size="34.6" font-weight="bold" stroke="#000" stroke-width="0.8" stroke-linejoin="round" fill="#000">50</text>
<text transform="translate(1367.49 1619.00) scale(1.2468 1)" font-size="34.6" font-weight="bold" stroke="#000" stroke-width="0.8" stroke-linejoin="round" fill="#000">60</text>
<text transform="translate(1426.58 1619.00) scale(1.3060 1)" font-size="34.6" font-weight="bold" stroke="#000" stroke-width="0.8" stroke-linejoin="round" fill="#000">min</text>
</g>
<g id="panel-c" fill="none" stroke="#000">
<path d="M240.2,1669.1H1460.6" stroke-width="2.2"/>
<path d="M260.1,1668V2471.3" stroke-width="3"/>
<path d="M1458.8,1668V2471.3" stroke-width="3.6"/>
<path d="M241.5,2469.4H1460.6" stroke-width="3.6"/>
<path d="M249.4,2389.4H260M240.2,2309.3H260M249.4,2229.1H260M240.2,2148.9H260M249.4,2068.8H260M240.2,1988.6H260M249.4,1908.4H260M240.2,1828.3H260M249.4,1748.1H260" stroke-width="3"/>
<path d="M258.0,2469V2479.5M318.0,2469V2487M378.0,2469V2479.5M438.0,2469V2487M498.0,2469V2479.5M558.0,2469V2487M618.0,2469V2479.5M678.0,2469V2487M738.0,2469V2479.5M798.0,2469V2487M858.0,2469V2479.5M918.0,2469V2487M978.0,2469V2479.5M1038.0,2469V2487M1098.0,2469V2479.5M1158.0,2469V2487M1218.0,2469V2479.5M1278.0,2469V2487M1338.0,2469V2479.5M1398.0,2469V2487M1458.0,2469V2479.5" stroke-width="3"/>
</g>
<g id="points-c">
<path d="M311.9,1771.0h14.6v14.2h-14.6zM341.9,1799.7h14.6v14.2h-14.6zM371.9,1831.2h14.6v14.2h-14.6zM401.9,1858.7h14.6v14.2h-14.6zM431.9,1883.4h14.6v14.2h-14.6zM461.9,1906.0h14.6v14.2h-14.6zM491.9,1931.5h14.6v14.2h-14.6zM521.9,1952.5h14.6v14.2h-14.6zM551.9,1975.2h14.6v14.2h-14.6zM581.9,1998.2h14.6v14.2h-14.6zM611.9,2026.1h14.6v14.2h-14.6zM641.9,2052.4h14.6v14.2h-14.6zM671.9,2077.5h14.6v14.2h-14.6zM701.9,2103.8h14.6v14.2h-14.6zM731.9,2123.6h14.6v14.2h-14.6zM761.9,2148.6h14.6v14.2h-14.6zM791.9,2168.0h14.6v14.2h-14.6zM821.9,2192.7h14.6v14.2h-14.6zM851.9,2216.6h14.6v14.2h-14.6zM881.9,2239.2h14.6v14.2h-14.6zM911.9,2259.8h14.6v14.2h-14.6zM941.9,2258.6h14.6v14.2h-14.6zM971.9,2243.2h14.6v14.2h-14.6zM1001.9,2224.2h14.6v14.2h-14.6zM1031.9,2201.2h14.6v14.2h-14.6zM1061.9,2179.4h14.6v14.2h-14.6zM1091.9,2159.6h14.6v14.2h-14.6zM1121.9,2133.3h14.6v14.2h-14.6zM1151.9,2109.4h14.6v14.2h-14.6zM1181.9,2085.2h14.6v14.2h-14.6zM1211.9,2060.9h14.6v14.2h-14.6zM1241.9,2033.0h14.6v14.2h-14.6zM1271.9,2009.1h14.6v14.2h-14.6zM1301.9,1988.9h14.6v14.2h-14.6zM1331.9,1964.7h14.6v14.2h-14.6z" fill="#000"/>
<ellipse cx="319.2" cy="1885.6" rx="8.4" ry="7.4" fill="#930000"/>
<ellipse cx="349.2" cy="1915.5" rx="8.4" ry="7.4" fill="#930000"/>
<ellipse cx="379.2" cy="1943.0" rx="8.4" ry="7.4" fill="#930000"/>
<ellipse cx="409.2" cy="1971.7" rx="8.4" ry="7.4" fill="#930000"/>
<ellipse cx="439.2" cy="1996.3" rx="8.4" ry="7.4" fill="#930000"/>
<ellipse cx="469.2" cy="2026.3" rx="8.4" ry="7.4" fill="#930000"/>
<ellipse cx="499.2" cy="2054.2" rx="8.4" ry="7.4" fill="#930000"/>
<ellipse cx="529.2" cy="2082.5" rx="8.4" ry="7.4" fill="#930000"/>
<ellipse cx="559.2" cy="2110.4" rx="8.4" ry="7.4" fill="#930000"/>
<ellipse cx="589.2" cy="2138.7" rx="8.4" ry="7.4" fill="#930000"/>
<ellipse cx="619.2" cy="2169.0" rx="8.4" ry="7.4" fill="#930000"/>
<ellipse cx="649.2" cy="2197.3" rx="8.4" ry="7.4" fill="#930000"/>
<ellipse cx="679.2" cy="2225.2" rx="8.4" ry="7.4" fill="#930000"/>
<ellipse cx="709.2" cy="2252.3" rx="8.4" ry="7.4" fill="#930000"/>
<ellipse cx="739.2" cy="2279.0" rx="8.4" ry="7.4" fill="#930000"/>
<ellipse cx="769.2" cy="2297.6" rx="8.4" ry="7.4" fill="#930000"/>
<ellipse cx="799.2" cy="2293.5" rx="8.4" ry="7.4" fill="#930000"/>
<ellipse cx="829.2" cy="2273.3" rx="8.4" ry="7.4" fill="#930000"/>
<ellipse cx="859.2" cy="2251.9" rx="8.4" ry="7.4" fill="#930000"/>
<ellipse cx="889.2" cy="2229.2" rx="8.4" ry="7.4" fill="#930000"/>
<ellipse cx="919.2" cy="2207.0" rx="8.4" ry="7.4" fill="#930000"/>
<ellipse cx="949.2" cy="2184.7" rx="8.4" ry="7.4" fill="#930000"/>
<ellipse cx="979.2" cy="2165.7" rx="8.4" ry="7.4" fill="#930000"/>
<ellipse cx="1009.2" cy="2141.9" rx="8.4" ry="7.4" fill="#930000"/>
<ellipse cx="1039.2" cy="2119.2" rx="8.4" ry="7.4" fill="#930000"/>
<ellipse cx="1069.2" cy="2096.6" rx="8.4" ry="7.4" fill="#930000"/>
<ellipse cx="1099.2" cy="2074.8" rx="8.4" ry="7.4" fill="#930000"/>
<ellipse cx="1129.2" cy="2053.3" rx="8.4" ry="7.4" fill="#930000"/>
<ellipse cx="1159.2" cy="2031.5" rx="8.4" ry="7.4" fill="#930000"/>
<ellipse cx="1189.2" cy="2013.7" rx="8.4" ry="7.4" fill="#930000"/>
<ellipse cx="1219.2" cy="1990.3" rx="8.4" ry="7.4" fill="#930000"/>
<ellipse cx="1249.2" cy="1969.2" rx="8.4" ry="7.4" fill="#930000"/>
<ellipse cx="1279.2" cy="1946.2" rx="8.4" ry="7.4" fill="#930000"/>
<ellipse cx="1309.2" cy="1927.2" rx="8.4" ry="7.4" fill="#930000"/>
<ellipse cx="1339.2" cy="1902.9" rx="8.4" ry="7.4" fill="#930000"/>
<path d="M308.7,2126.9h21l-10.5,-17.5zM338.7,2142.7h21l-10.5,-17.5zM368.7,2157.7h21l-10.5,-17.5zM398.7,2171.0h21l-10.5,-17.5zM428.7,2187.2h21l-10.5,-17.5zM458.7,2202.5h21l-10.5,-17.5zM488.7,2218.7h21l-10.5,-17.5zM518.7,2235.7h21l-10.5,-17.5zM548.7,2252.3h21l-10.5,-17.5zM578.7,2268.9h21l-10.5,-17.5zM608.7,2286.2h21l-10.5,-17.5zM638.7,2303.2h21l-10.5,-17.5zM668.7,2321.8h21l-10.5,-17.5zM698.7,2340.0h21l-10.5,-17.5zM728.7,2354.2h21l-10.5,-17.5zM758.7,2368.3h21l-10.5,-17.5zM788.7,2378.0h21l-10.5,-17.5zM803.7,2379.2h21l-10.5,-17.5zM818.7,2379.2h21l-10.5,-17.5zM833.7,2379.2h21l-10.5,-17.5zM848.7,2379.2h21l-10.5,-17.5zM863.7,2379.2h21l-10.5,-17.5zM878.7,2379.2h21l-10.5,-17.5zM893.7,2378.8h21l-10.5,-17.5zM908.7,2377.2h21l-10.5,-17.5zM923.7,2373.2h21l-10.5,-17.5zM938.7,2365.1h21l-10.5,-17.5zM968.7,2344.1h21l-10.5,-17.5zM998.7,2322.6h21l-10.5,-17.5zM1028.7,2301.6h21l-10.5,-17.5zM1058.7,2280.2h21l-10.5,-17.5zM1088.7,2258.7h21l-10.5,-17.5zM1118.7,2236.5h21l-10.5,-17.5zM1148.7,2213.5h21l-10.5,-17.5zM1178.7,2190.4h21l-10.5,-17.5zM1208.7,2169.0h21l-10.5,-17.5zM1238.7,2145.9h21l-10.5,-17.5zM1268.7,2124.5h21l-10.5,-17.5zM1298.7,2102.3h21l-10.5,-17.5zM1328.7,2073.2h21l-10.5,-17.5z" fill="#0000b0"/>
<path d="M1186.6,2305.1h14v14h-14z" fill="#000"/>
<ellipse cx="1194.8" cy="2359.8" rx="8.4" ry="7.4" fill="#930000"/>
<path d="M1184.3,2415.6h21l-10.5,-17.5z" fill="#0000b0"/>
</g>
<g id="labels-c">
<text transform="translate(52.69 1778.00) scale(1.0017 1)" font-size="79.5" font-weight="bold" fill="#000">(c)</text>
<text x="210.22" y="2478.20" font-size="30.8" font-weight="bold" letter-spacing="1.2" fill="#000">0</text>
<text x="192.00" y="2317.87" font-size="30.8" font-weight="bold" letter-spacing="1.2" fill="#000">50</text>
<text x="173.52" y="2157.54" font-size="30.8" font-weight="bold" letter-spacing="1.2" fill="#000">100</text>
<text x="173.52" y="1997.21" font-size="30.8" font-weight="bold" letter-spacing="1.2" fill="#000">150</text>
<text x="173.52" y="1836.88" font-size="30.8" font-weight="bold" letter-spacing="1.2" fill="#000">200</text>
<text x="173.52" y="1676.55" font-size="30.8" font-weight="bold" letter-spacing="1.2" fill="#000">250</text>
<text x="309.49" y="2518.40" font-size="30.8" font-weight="bold" letter-spacing="0.6" fill="#000">0</text>
<text x="411.86" y="2518.40" font-size="30.8" font-weight="bold" letter-spacing="0.6" fill="#000">200</text>
<text x="532.11" y="2518.40" font-size="30.8" font-weight="bold" letter-spacing="0.6" fill="#000">400</text>
<text x="651.86" y="2518.40" font-size="30.8" font-weight="bold" letter-spacing="0.6" fill="#000">600</text>
<text x="771.86" y="2518.40" font-size="30.8" font-weight="bold" letter-spacing="0.6" fill="#000">800</text>
<text x="882.54" y="2518.40" font-size="30.8" font-weight="bold" letter-spacing="0.6" fill="#000">1000</text>
<text x="1002.54" y="2518.40" font-size="30.8" font-weight="bold" letter-spacing="0.6" fill="#000">1200</text>
<text x="1122.54" y="2518.40" font-size="30.8" font-weight="bold" letter-spacing="0.6" fill="#000">1400</text>
<text x="1242.54" y="2518.40" font-size="30.8" font-weight="bold" letter-spacing="0.6" fill="#000">1600</text>
<text x="1362.54" y="2518.40" font-size="30.8" font-weight="bold" letter-spacing="0.6" fill="#000">1800</text>
<text transform="translate(622.76 2589.80) scale(0.9744 1)" font-size="44.5" font-weight="bold" fill="#000">Volume of NaOH (µL)</text>
<text transform="translate(141.70 2292.58) rotate(-90) scale(0.9592 1)" font-size="44.5" font-weight="bold">Conductivity (µs/cm)</text>
<text x="1255.55" y="2325.00" font-size="38" font-weight="normal" letter-spacing="2.6" stroke="#000" stroke-width="0.5" stroke-linejoin="round" fill="#000">PPP-1a</text>
<text x="1255.55" y="2372.80" font-size="38" font-weight="normal" letter-spacing="2.6" stroke="#000" stroke-width="0.5" stroke-linejoin="round" fill="#000">PPP-1b</text>
<text x="1255.55" y="2421.20" font-size="38" font-weight="normal" letter-spacing="2.6" stroke="#000" stroke-width="0.5" stroke-linejoin="round" fill="#000">PPP-2</text>
</g>
</svg>
</body></html>
